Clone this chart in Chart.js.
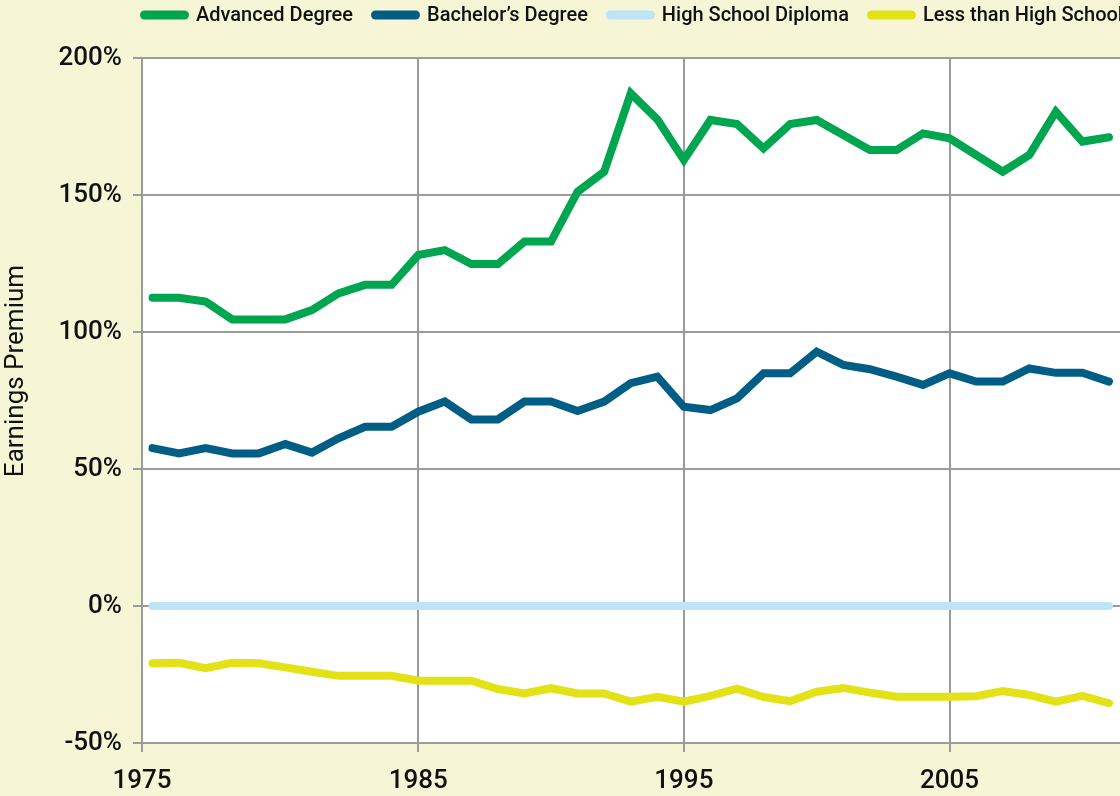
<!DOCTYPE html>
<html>
<head>
<meta charset="utf-8">
<script src="https://cdn.jsdelivr.net/npm/chart.js@4.4.1/dist/chart.umd.min.js"></script>
<style>
  html, body { margin: 0; padding: 0; background: #F6F6D7; }
  #wrap { width: 1120px; height: 796px; position: relative; }
</style>
</head>
<body>
<div id="wrap"><canvas id="c" width="1120" height="796"></canvas></div>
<script>
const years = [1975,1976,1977,1978,1979,1980,1981,1982,1983,1984,1985,1986,1987,1988,1989,1990,1991,1992,1993,1994,1995,1996,1997,1998,1999,2000,2001,2002,2003,2004,2005,2006,2007,2008,2009,2010,2011];
const advancedDegree = [112.5,112.5,111.1,104.6,104.6,104.6,108.0,114.1,117.2,117.2,128.1,129.9,124.8,124.8,133.0,133.0,151.2,158.5,187.1,177.6,162.8,177.4,175.9,167.0,175.9,177.4,171.9,166.4,166.4,172.5,170.7,164.6,158.5,164.6,180.4,169.5,171.1];
const bachelorsDegree = [57.6,55.7,57.6,55.7,55.7,59.1,56.0,61.2,65.4,65.4,70.9,74.6,68.1,68.1,74.6,74.6,71.2,74.6,81.3,83.7,72.7,71.5,75.8,84.9,84.9,92.8,88.0,86.4,83.7,80.7,84.9,81.9,81.9,86.7,85.1,85.1,81.9];
const highSchoolDiploma = [0,0,0,0,0,0,0,0,0,0,0,0,0,0,0,0,0,0,0,0,0,0,0,0,0,0,0,0,0,0,0,0,0,0,0,0,0];
const lessThanHighSchool = [-20.9,-20.7,-22.7,-20.7,-20.9,-22.4,-24.0,-25.5,-25.5,-25.5,-27.3,-27.3,-27.3,-30.3,-31.9,-30.0,-31.9,-31.9,-34.9,-33.1,-34.9,-32.8,-30.2,-33.2,-34.7,-31.3,-29.9,-31.6,-33.1,-33.1,-33.1,-32.9,-31.0,-32.5,-34.9,-32.8,-35.5];
const seriesNames = ['Advanced Degree', 'Bachelor\u2019s Degree', 'High School Diploma', 'Less than High School'];
const seriesColors = ['#00A550', '#005E86', '#BEE4F5', '#E2E217'];
const xTickYears = [1975, 1985, 1995, 2005];
const yTicks = [-50, 0, 50, 100, 150, 200];
const yTitle = 'Earnings Premium';

const X_MIN = 1974.605, X_MAX = 2011.415;

function pts(arr) { return years.map((y, i) => ({ x: y, y: arr[i] })); }
const allSeries = [advancedDegree, bachelorsDegree, highSchoolDiploma, lessThanHighSchool];

const bgPlugin = {
  id: 'bg',
  beforeDraw(chart) {
    const { ctx, chartArea: a } = chart;
    ctx.save();
    ctx.fillStyle = '#FFFFFF';
    ctx.fillRect(a.left, a.top, a.right - a.left, a.bottom - a.top);
    ctx.restore();
  }
};

const extrasPlugin = {
  id: 'extras',
  afterDraw(chart) {
    const ctx = chart.ctx;
    ctx.save();
    ctx.font = '400 26px Roboto';
    ctx.fillStyle = '#111111';
    ctx.translate(16, 371);
    ctx.rotate(-Math.PI / 2);
    ctx.textAlign = 'center';
    ctx.textBaseline = 'middle';
    ctx.fillText(yTitle, 0, 0);
    ctx.restore();

    ctx.save();
    ctx.font = '500 20px Roboto';
    ctx.textBaseline = 'middle';
    ctx.textAlign = 'left';
    let x = 140;
    const yc = 15;
    chart.data.datasets.forEach((ds) => {
      ctx.strokeStyle = ds.borderColor;
      ctx.lineWidth = 9;
      ctx.lineCap = 'round';
      ctx.beginPath();
      ctx.moveTo(x + 4.5, yc);
      ctx.lineTo(x + 44.5, yc);
      ctx.stroke();
      ctx.fillStyle = '#111111';
      ctx.fillText(ds.label, x + 56, yc + 1);
      x = x + 56 + ctx.measureText(ds.label).width + 18;
    });
    ctx.restore();
  }
};

new Chart(document.getElementById('c'), {
  type: 'line',
  data: {
    datasets: allSeries.map((arr, i) => ({
      label: seriesNames[i],
      data: pts(arr),
      borderColor: seriesColors[i],
      backgroundColor: seriesColors[i],
      borderWidth: 8,
      borderCapStyle: 'round',
      borderJoinStyle: 'miter',
      pointRadius: 0,
      tension: 0,
      fill: false
    }))
  },
  options: {
    responsive: false,
    animation: false,
    layout: { padding: { top: 58, left: 0, right: 0, bottom: 0 } },
    plugins: {
      legend: { display: false },
      tooltip: { enabled: false },
      title: { display: false }
    },
    scales: {
      x: {
        type: 'linear',
        min: X_MIN,
        max: X_MAX,
        afterBuildTicks(scale) {
          scale.ticks = xTickYears.map((v, i) => ({ value: i === 0 ? X_MIN : v, label: String(v) }));
        },
        afterFit(scale) { scale.height = 53; },
        ticks: {
          callback(value, index) { return String(xTickYears[index]); },
          font: { family: 'Roboto', size: 26, weight: '500' },
          color: '#111111',
          padding: 14,
          maxRotation: 0,
          autoSkip: false
        },
        grid: { color: '#9B9B9B', lineWidth: 2, tickLength: 9, drawTicks: true },
        border: { color: '#9B9B9B', width: 2 }
      },
      y: {
        type: 'linear',
        min: -50,
        max: 200,
        afterBuildTicks(scale) {
          scale.ticks = yTicks.map(v => ({ value: v }));
        },
        afterFit(scale) { scale.width = 142; },
        ticks: {
          callback(value) { return value + '%'; },
          font: { family: 'Roboto', size: 26, weight: '500' },
          color: '#111111',
          padding: 11
        },
        grid: { color: '#9B9B9B', lineWidth: 2, tickLength: 9, drawTicks: true },
        border: { color: '#9B9B9B', width: 2 }
      }
    }
  },
  plugins: [bgPlugin, extrasPlugin]
});
</script>
</body>
</html>
